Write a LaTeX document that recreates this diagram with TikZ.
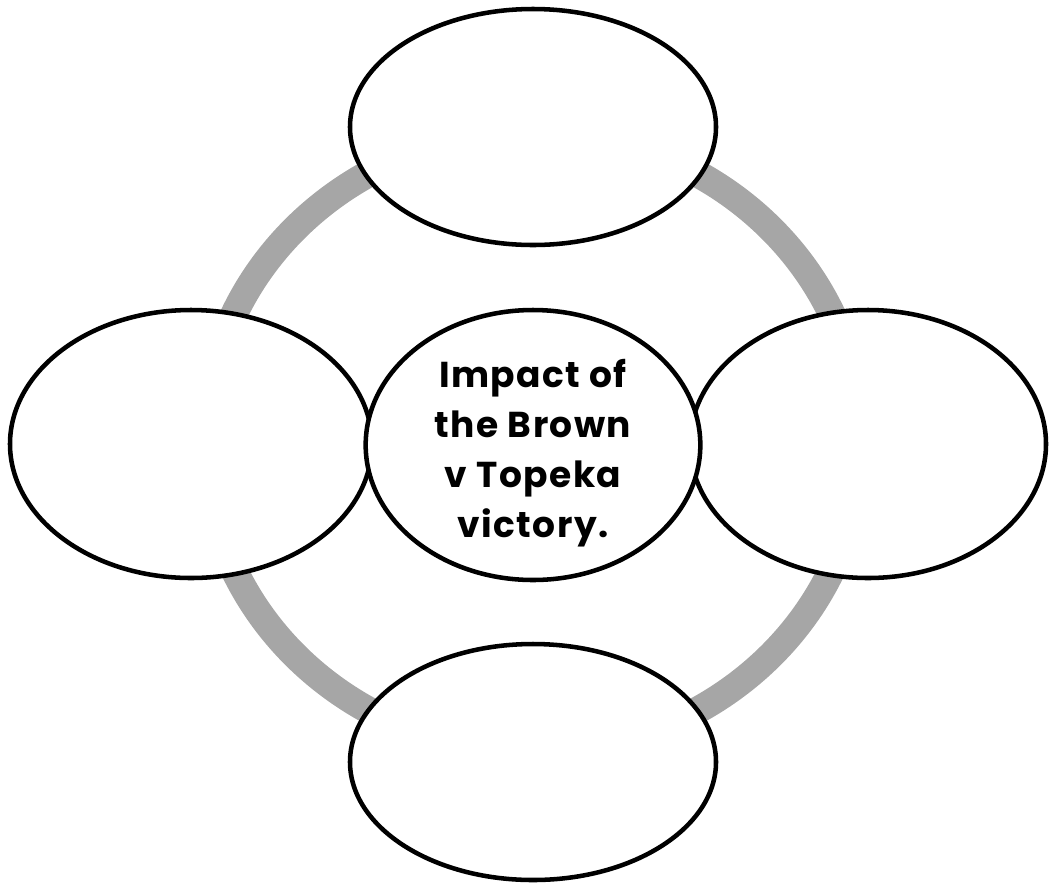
\documentclass[tikz,border=0pt]{standalone}
\usepackage{fontspec}
\newfontfamily\hubfont[LetterSpace=4]{Poppins}
\usetikzlibrary{shapes.geometric}
\definecolor{ringgray}{HTML}{A6A6A6}

\begin{document}
\begin{tikzpicture}[x=0.75pt, y=-0.75pt,
  bubble/.style={draw=black, line width=3.4pt, fill=white, ellipse, inner sep=0pt},
  hubtext/.style={font=\hubfont\bfseries\fontsize{27}{37.5}\selectfont, align=center}]
\useasboundingbox (0,0) rectangle (1049,883);
% ring behind the bubbles
\draw[ringgray, line width=20.5pt] (533,442) ellipse [x radius=246pt, y radius=232.5pt];
% outer bubbles
\node[bubble, minimum width=274.5pt, minimum height=177pt] (top) at (533,127) {};
\node[bubble, minimum width=274.5pt, minimum height=177pt] (bottom) at (533,762) {};
\node[bubble, minimum width=271.5pt, minimum height=201pt] (left) at (191,444) {};
\node[bubble, minimum width=267pt, minimum height=201pt] (right) at (868,444) {};
% centre
\node[bubble, minimum width=251pt, minimum height=202.5pt] (centre) at (533,445) {};
\node[hubtext] (centretext) at ([yshift=-6pt]centre.center) {Impact of\\the Brown\\v Topeka\\victory.};
\end{tikzpicture}
\end{document}
